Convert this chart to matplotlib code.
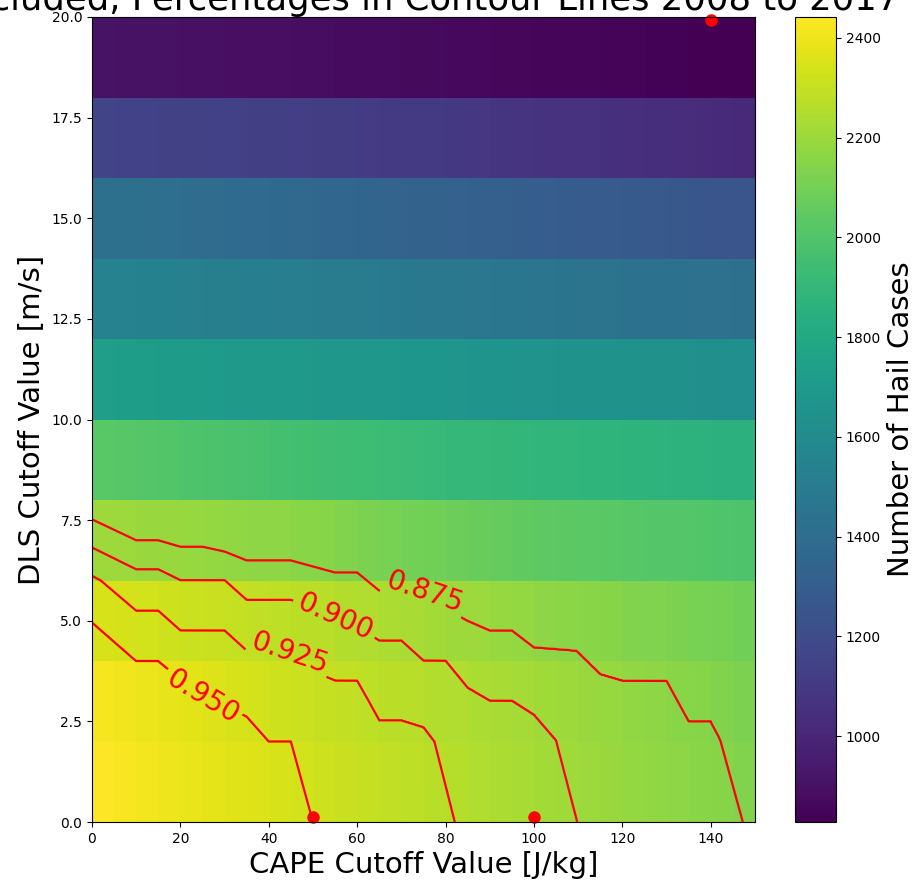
import numpy as np
import matplotlib
matplotlib.use("Agg")
import matplotlib.pyplot as plt

# image cells: CAPE bins of 5 J/kg, DLS bins of 2 m/s
cape_edges = np.arange(0, 155, 5)
dls_edges = np.arange(0, 22, 2)

# number of hail cases per cell, rows go from DLS 0-2 up to 18-20
cases = np.array([
    [2442, 2428, 2415, 2403, 2390, 2378, 2366, 2354, 2342, 2330, 2318, 2308, 2298, 2288, 2279,
     2270, 2260, 2250, 2240, 2230, 2220, 2210, 2200, 2192, 2183, 2175, 2166, 2157, 2148, 2138],
    [2420, 2405, 2392, 2380, 2368, 2356, 2344, 2332, 2322, 2312, 2302, 2293, 2284, 2275, 2266,
     2257, 2248, 2240, 2231, 2222, 2213, 2204, 2195, 2186, 2177, 2168, 2158, 2149, 2138, 2126],
    [2345, 2338, 2330, 2322, 2314, 2306, 2298, 2290, 2282, 2276, 2268, 2258, 2248, 2238, 2228,
     2218, 2208, 2198, 2188, 2178, 2170, 2162, 2154, 2146, 2138, 2130, 2121, 2112, 2102, 2092],
    [2205, 2200, 2195, 2190, 2185, 2180, 2175, 2170, 2165, 2158, 2148, 2136, 2124, 2112, 2100,
     2090, 2080, 2070, 2060, 2050, 2043, 2037, 2031, 2025, 2019, 2013, 2007, 2001, 1995, 1989],
    [2025, 2018, 2010, 2002, 1994, 1986, 1978, 1970, 1962, 1955, 1948, 1941, 1934, 1927, 1920,
     1913, 1906, 1900, 1895, 1890, 1886, 1882, 1879, 1876, 1873, 1870, 1867, 1864, 1861, 1858],
    [1725, 1722, 1718, 1715, 1711, 1708, 1704, 1701, 1697, 1694, 1690, 1687, 1683, 1680, 1676,
     1673, 1669, 1666, 1662, 1659, 1655, 1652, 1648, 1645, 1642, 1639, 1636, 1633, 1630, 1627],
    [1540, 1536, 1532, 1528, 1524, 1520, 1516, 1512, 1508, 1504, 1499, 1495, 1490, 1486, 1481,
     1477, 1472, 1468, 1463, 1459, 1454, 1450, 1445, 1441, 1437, 1433, 1429, 1425, 1421, 1417],
    [1420, 1415, 1410, 1405, 1399, 1393, 1387, 1381, 1375, 1369, 1363, 1357, 1350, 1344, 1338,
     1331, 1325, 1318, 1312, 1306, 1300, 1294, 1288, 1282, 1276, 1270, 1264, 1258, 1252, 1246],
    [1150, 1147, 1144, 1141, 1138, 1135, 1132, 1129, 1125, 1121, 1117, 1113, 1109, 1105, 1100,
     1095, 1090, 1085, 1079, 1073, 1067, 1061, 1055, 1049, 1043, 1037, 1031, 1025, 1018, 1011],
    [905, 902, 900, 898, 895, 893, 890, 888, 885, 883, 880, 878, 875, 873, 870,
     868, 865, 862, 859, 856, 853, 850, 847, 844, 841, 838, 835, 832, 830, 828],
])

# fraction of cases kept: where each contour level lies (CAPE, DLS)
# (last point of each line continues below the x axis up to CAPE 150)
cape_950 = [0, 10, 15, 20, 25, 30, 35, 40, 45, 50, 150]
dls_950 = [4.96, 4.0, 4.0, 3.55, 3.1, 2.9, 2.62, 2.0, 2.0, 0.0, -38.3]
cape_925 = [0, 2, 10, 15, 20, 30, 35, 40, 45, 50, 55, 60, 65, 70, 75, 77.5, 82.1, 150]
dls_925 = [6.12, 6.0, 5.25, 5.25, 4.76, 4.76, 4.26, 4.26, 4.2, 3.75, 3.52, 3.52, 2.53, 2.53,
           2.36, 2.0, 0.0, -29.5]
cape_900 = [0, 10, 15, 20, 30, 35, 45, 50, 55, 60, 65, 70, 75, 80, 85, 90, 95, 100, 105,
            109.8, 150]
dls_900 = [6.82, 6.28, 6.28, 6.01, 6.01, 5.52, 5.52, 5.3, 5.1, 4.85, 4.51, 4.51, 4.01, 4.01,
           3.34, 3.02, 3.02, 2.67, 2.03, 0.0, -16.6]
cape_875 = [0, 10, 15, 20, 25, 30, 35, 45, 55, 60, 65, 70, 75, 80, 85, 90, 95, 100, 109.6,
            115, 120, 130, 135, 140, 142.2, 147.3, 150]
dls_875 = [7.52, 7.0, 7.0, 6.84, 6.84, 6.72, 6.5, 6.5, 6.2, 6.2, 5.75, 5.75, 5.72, 5.3, 5.0,
           4.76, 4.76, 4.34, 4.26, 3.68, 3.52, 3.52, 2.5, 2.5, 2.03, 0.0, -1.07]
frac_top = 0.34
levels = [0.875, 0.9, 0.925, 0.95]
label_pos = [(75.3, 5.72), (55.0, 5.1), (44.8, 4.3), (24.7, 3.07)]

# red markers
dot_cape = [50, 100, 140]
dot_dls = [0.12, 0.12, 19.92]

cape_fine = np.linspace(0, 150, 1201)
dls_fine = np.linspace(0, 20, 801)
y950 = np.interp(cape_fine, cape_950, dls_950)
y925 = np.interp(cape_fine, cape_925, dls_925)
y900 = np.interp(cape_fine, cape_900, dls_900)
y875 = np.interp(cape_fine, cape_875, dls_875)
frac = np.zeros((len(dls_fine), len(cape_fine)))
for j in range(len(cape_fine)):
    ys = [y950[j] - 10, y950[j], y925[j], y900[j], y875[j], 20.0]
    fs = [1.0, 0.95, 0.925, 0.9, 0.875, frac_top]
    frac[:, j] = np.interp(dls_fine, ys, fs)

fig = plt.figure(figsize=(9.16, 8.84), dpi=100)
ax = fig.add_axes([92/916, 62/884, 663/916, 805/884])
cax = fig.add_axes([795/916, 62/884, 41/916, 805/884])

mesh = ax.pcolormesh(cape_edges, dls_edges, cases, cmap="viridis")
cs = ax.contour(cape_fine, dls_fine, frac, levels=levels, colors="red", linewidths=1.6)
ax.clabel(cs, inline=True, fontsize=20, fmt="%1.3f", manual=label_pos)
ax.plot(dot_cape, dot_dls, "o", color="red", markersize=8, clip_on=False)

ax.set_xlim(0, 150)
ax.set_ylim(0, 20)
ax.set_xlabel("CAPE Cutoff Value [J/kg]", fontsize=21)
ax.set_ylabel("DLS Cutoff Value [m/s]", fontsize=21)
ax.set_title("Excluded, Percentages in Contour Lines 2008 to 2017", fontsize=25.5, pad=4)

cb = fig.colorbar(mesh, cax=cax)
cb.set_label("Number of Hail Cases", fontsize=21)

fig.savefig("out.png", dpi=100)
